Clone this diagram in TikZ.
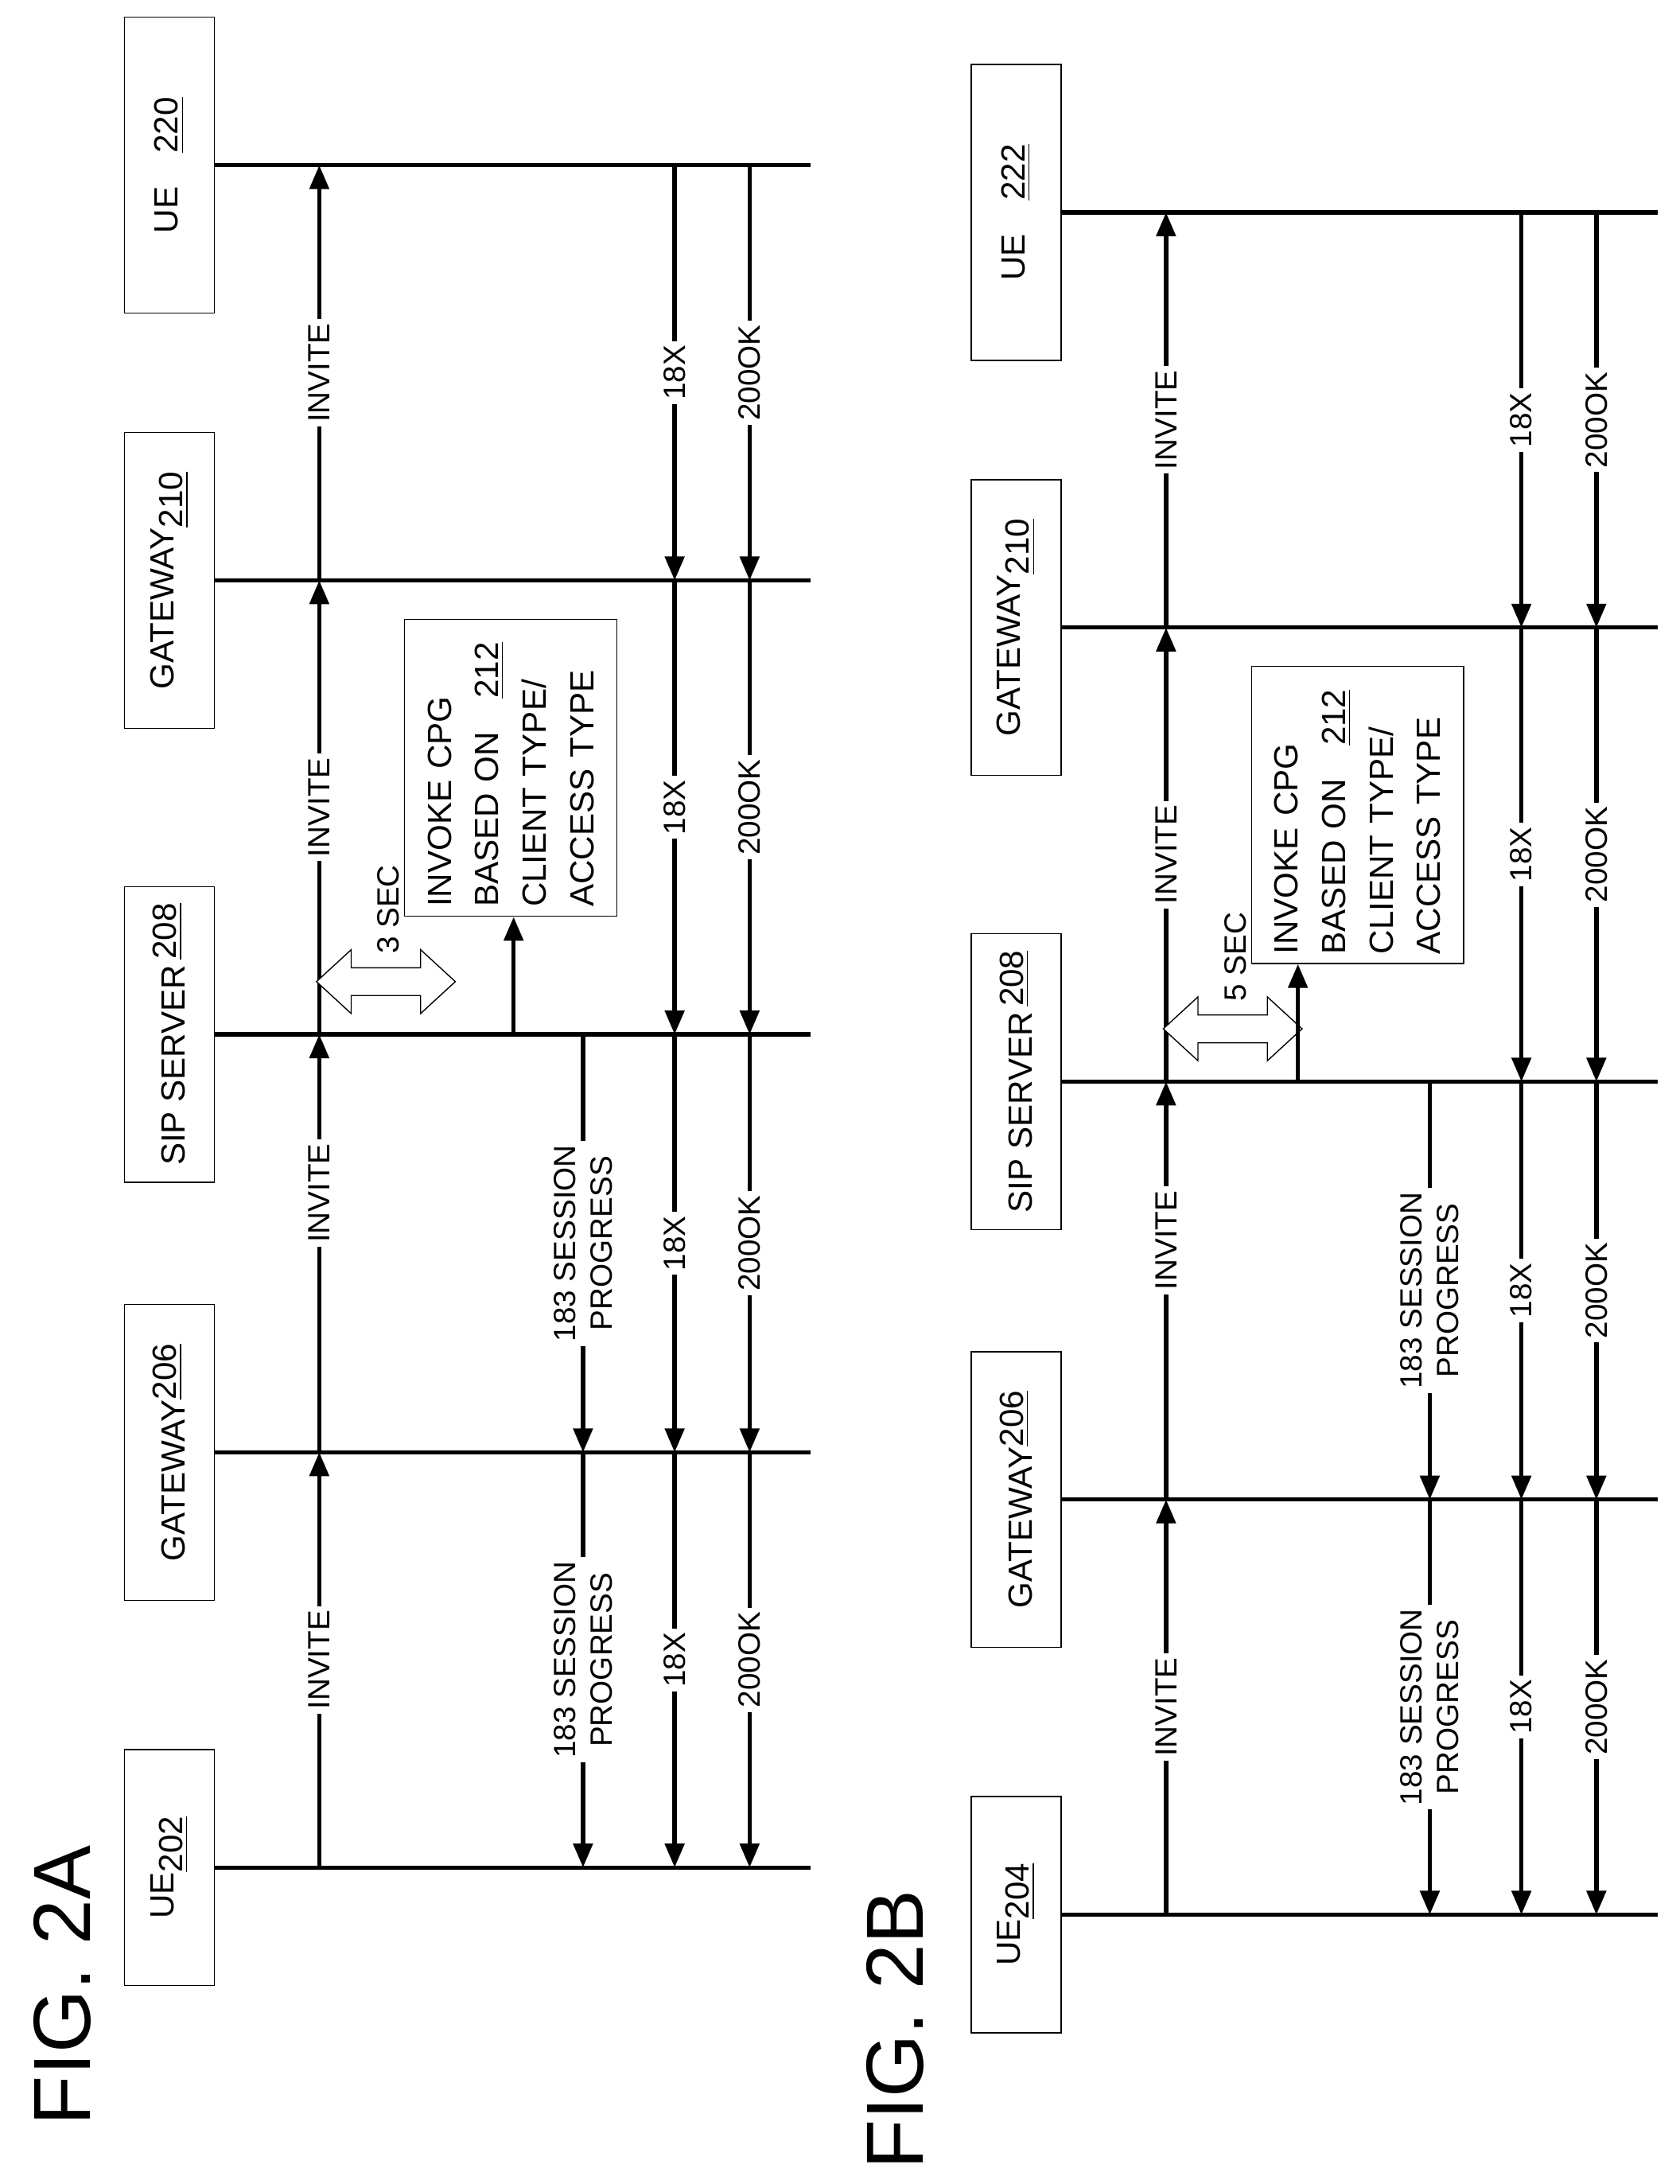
\documentclass[tikz,border=0pt]{standalone}
\usepackage{fontspec}
\setmainfont{Liberation Sans}
\usetikzlibrary{calc, arrows.meta}

\tikzset{
    life/.style={line width=1.5pt},
    msg/.style={line width=1.5pt,-{Triangle[length=0.3cm,width=0.24cm]}},
    lbox/.style={draw,thin,rotate=90,minimum height=1.13cm,inner sep=2pt,font=\fontsize{12}{14}\selectfont},
    lab/.style={fill=white,rotate=90,inner sep=1.5pt,font=\fontsize{11}{13}\selectfont},
    figlab/.style={rotate=90,font=\fontsize{29}{33}\selectfont},
}

% one call flow: #1 top UE, #2 bottom UE, #3 seconds, #4 x of CPG arrow
\newcommand{\callflow}[4]{
    \foreach \nm/\yy/\lab/\h in {ueT/119/{UE\quad\underline{#1}}/213,
        gwT/418/{GATEWAY\raisebox{-0.5ex}{\underline{210}}}/213,
        sip/745/{SIP SERVER\raisebox{0.5ex}{\,\underline{208}}}/213,
        gwB/1046/{GATEWAY\raisebox{0.5ex}{\underline{206}}}/213,
        ueB/1345/{UE\raisebox{-0.5ex}{\underline{#2}}}/170}{
        \node[lbox,minimum width=\h*0.01745cm] (\nm) at (122,\yy) {\lab};
        \draw[life] (\nm.south) -- (584,\yy);
        \foreach \mx/\mn in {230/inv,420/ses,486/xa,540/ok,#4/cpg}
            \coordinate (\mn-\nm) at (\mx,\yy);
    }
    % INVITE up
    \draw[msg] (inv-ueB) -- node[lab]{INVITE} (inv-gwB);
    \draw[msg] (inv-gwB) -- node[lab,pos=0.62]{INVITE} (inv-sip);
    \draw[msg] (inv-sip) -- node[lab]{INVITE} (inv-gwT);
    \draw[msg] (inv-gwT) -- node[lab]{INVITE} (inv-ueT);
    % 18X and 200OK down
    \foreach \mn/\tx in {xa/18X,ok/200OK}{
        \draw[msg] (\mn-ueT) -- node[lab]{\tx} (\mn-gwT);
        \draw[msg] (\mn-gwT) -- node[lab]{\tx} (\mn-sip);
        \draw[msg] (\mn-sip) -- node[lab]{\tx} (\mn-gwB);
        \draw[msg] (\mn-gwB) -- node[lab]{\tx} (\mn-ueB);
    }
    % 183 session progress
    \draw[msg] (ses-sip) -- node[lab,align=center]{183 SESSION\\PROGRESS} (ses-gwB);
    \draw[msg] (ses-gwB) -- node[lab,align=center]{183 SESSION\\PROGRESS} (ses-ueB);
    % timer
    \draw[thin,fill=white] (228,707) -- (253,684) -- (253,697) -- (303,697) -- (303,684)
        -- (328,707) -- (303,730) -- (303,717) -- (253,717) -- (253,730) -- cycle;
    \node[lab,fill=none] (sec) at (280,655) {#3 SEC};
    % CPG
    \node[draw,thin,rotate=90,minimum width=3.72cm,minimum height=2.67cm,text width=3.5cm,
        align=left,font=\fontsize{12}{17}\selectfont] (cpg) at (368,553)
        {INVOKE CPG\\BASED ON\quad\underline{212}\\CLIENT TYPE/\\ACCESS TYPE};
    \draw[msg] (cpg-sip) -- (cpg-sip |- cpg.west);
}

\begin{document}
\begin{tikzpicture}[x=0.01745cm,y=-0.01745cm]
    \useasboundingbox (0,0) rectangle (1210,1573);
    \callflow{220}{202}{3}{370}
    \node[figlab] (figa) at (45,1430) {FIG. 2A};
    \begin{scope}[shift={(610,34)}]
        \callflow{222}{204}{5}{325}
    \end{scope}
    \node[figlab] (figb) at (645,1462) {FIG. 2B};
\end{tikzpicture}
\end{document}
